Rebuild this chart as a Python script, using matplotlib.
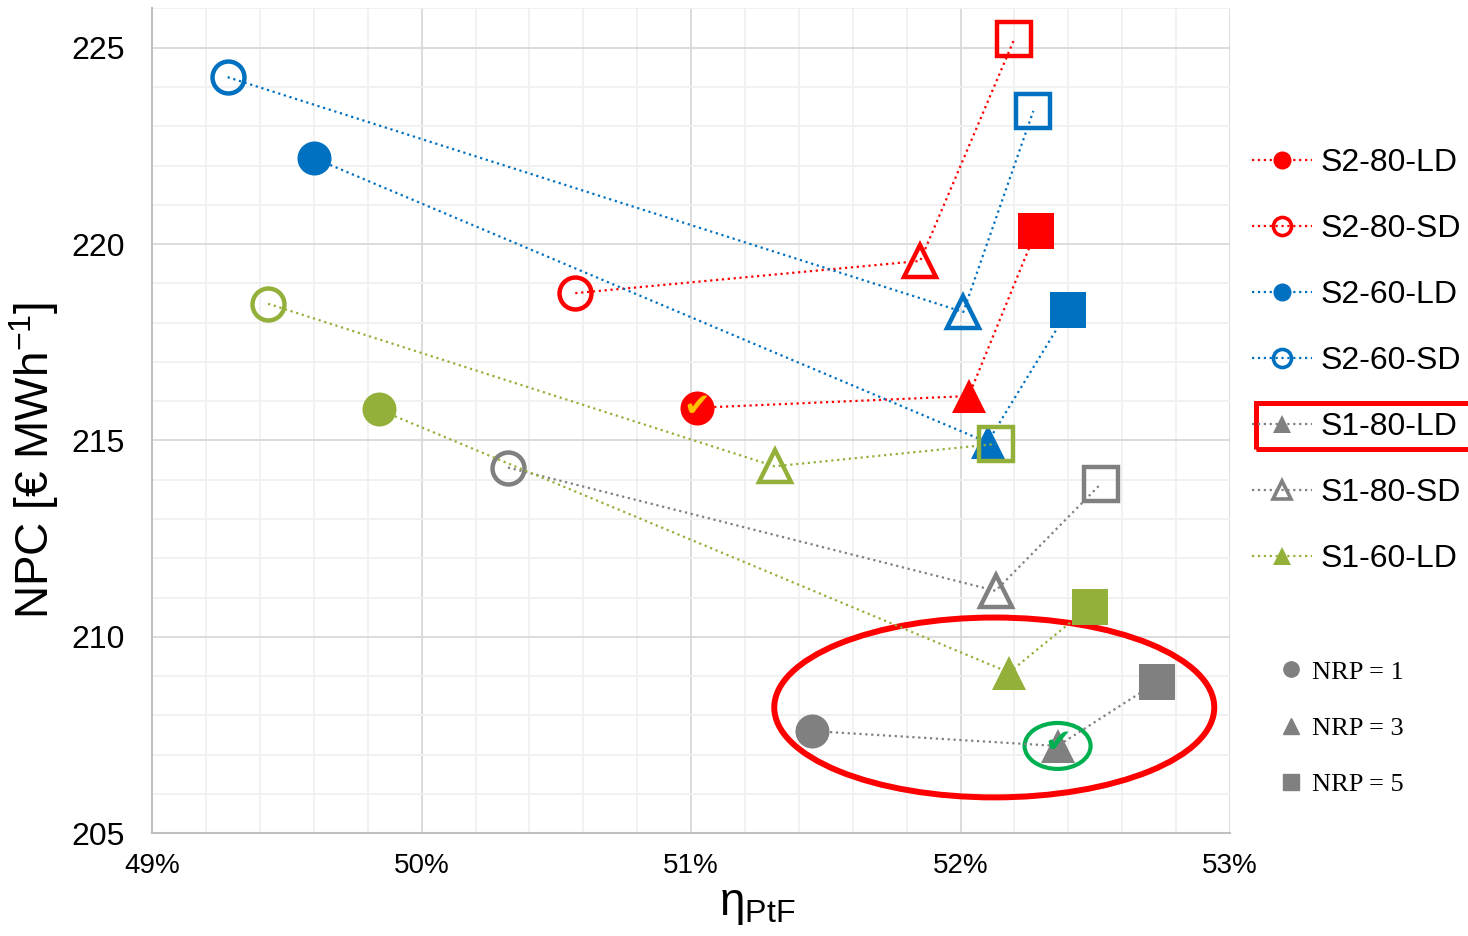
import matplotlib.pyplot as plt
from matplotlib.lines import Line2D
from matplotlib.patches import Ellipse, Rectangle
from matplotlib.ticker import MultipleLocator, FuncFormatter

plt.rcParams['font.family'] = ['Liberation Sans', 'DejaVu Sans']
plt.rcParams['mathtext.fontset'] = 'custom'
plt.rcParams['mathtext.rm'] = 'Liberation Sans'
plt.rcParams['mathtext.it'] = 'Liberation Sans:italic'

# eta_PtF [%] and NPC [EUR/MWh], each series has NRP = 1, 3, 5
s2_80_ld_eta = [51.02, 52.03, 52.28]
s2_80_ld_npc = [215.83, 216.13, 220.33]
s2_80_sd_eta = [50.57, 51.85, 52.20]
s2_80_sd_npc = [218.75, 219.57, 225.23]
s2_60_ld_eta = [49.60, 52.10, 52.40]
s2_60_ld_npc = [222.19, 214.95, 218.32]
s2_60_sd_eta = [49.28, 52.01, 52.27]
s2_60_sd_npc = [224.25, 218.27, 223.39]
s1_80_ld_eta = [51.45, 52.36, 52.73]
s1_80_ld_npc = [207.60, 207.22, 208.85]
s1_80_sd_eta = [50.32, 52.13, 52.52]
s1_80_sd_npc = [214.31, 211.17, 213.89]
s1_60_ld_eta = [49.84, 52.18, 52.48]
s1_60_ld_npc = [215.79, 209.09, 210.77]
s1_60_sd_eta = [49.43, 51.31, 52.13]
s1_60_sd_npc = [218.48, 214.34, 214.91]

series_labels = ['S2-80-LD', 'S2-80-SD', 'S2-60-LD', 'S2-60-SD',
                 'S1-80-LD', 'S1-80-SD', 'S1-60-LD', 'S1-60-SD']
series_colors = ['#FF0000', '#FF0000', '#0070C0', '#0070C0',
                 '#808080', '#808080', '#93B13A', '#93B13A']
series_filled = [True, False, True, False, True, False, True, False]
series_eta = [s2_80_ld_eta, s2_80_sd_eta, s2_60_ld_eta, s2_60_sd_eta,
              s1_80_ld_eta, s1_80_sd_eta, s1_60_ld_eta, s1_60_sd_eta]
series_npc = [s2_80_ld_npc, s2_80_sd_npc, s2_60_ld_npc, s2_60_sd_npc,
              s1_80_ld_npc, s1_80_sd_npc, s1_60_ld_npc, s1_60_sd_npc]
legend_markers = ['o', 'o', 'o', 'o', '^', '^', '^']

nrp_labels = ['NRP = 1', 'NRP = 3', 'NRP = 5']
nrp_markers = ['o', '^', 's']
nrp_sizes = [24.5, 25, 26]

fig = plt.figure(figsize=(14.68, 9.36), dpi=100)
ax = fig.add_axes([0.1037, 0.1099, 0.7342, 0.8811])

for lab, c, filled, xs, ys in zip(series_labels, series_colors, series_filled,
                                  series_eta, series_npc):
    ax.plot(xs, ys, ls=':', lw=1.6, color=c)
    for x, y, m, s in zip(xs, ys, nrp_markers, nrp_sizes):
        if filled:
            ax.plot(x, y, marker=m, ms=s, mfc=c, mec=c, mew=0, ls='none')
        else:
            ax.plot(x, y, marker=m, ms=s - 1.5, mfc='none', mec=c, mew=3.2, ls='none')

# highlighted solutions
ax.text(s2_80_ld_eta[0], s2_80_ld_npc[0], '\u2714', color='#FFC000', fontsize=23,
        ha='center', va='center', family='DejaVu Sans')
ax.text(s1_80_ld_eta[1], s1_80_ld_npc[1] + 0.05, '\u2714', color='#00B050', fontsize=23,
        ha='center', va='center', family='DejaVu Sans')
ax.add_patch(Ellipse((s1_80_ld_eta[1], s1_80_ld_npc[1]), 0.245, 1.17,
                     fill=False, ec='#00B050', lw=3.0))
ax.add_patch(Ellipse((52.125, 208.2), 1.633, 4.58, fill=False, ec='#FF0000', lw=4.3))

ax.set_xlim(49, 53)
ax.set_ylim(205, 226)
ax.xaxis.set_major_locator(MultipleLocator(1))
ax.xaxis.set_minor_locator(MultipleLocator(0.2))
ax.yaxis.set_major_locator(MultipleLocator(5))
ax.yaxis.set_minor_locator(MultipleLocator(1))
ax.xaxis.set_major_formatter(FuncFormatter(lambda v, p: '%d%%' % round(v)))
ax.grid(which='major', color='#D9D9D9', lw=1.3, zorder=0)
ax.grid(which='minor', color='#F0F0F0', lw=1.3, zorder=0)
ax.set_axisbelow(True)
ax.tick_params(which='both', length=0)
ax.tick_params(axis='x', labelsize=20, pad=14)
ax.tick_params(axis='y', labelsize=23, pad=20)
for side in ['top', 'right']:
    ax.spines[side].set_visible(False)
for side in ['left', 'bottom']:
    ax.spines[side].set_color('#BFBFBF')
    ax.spines[side].set_linewidth(1.5)

ax.set_ylabel('NPC [\u20ac MWh$^{\\mathrm{-1}}$]', fontsize=33)
ax.yaxis.set_label_coords(-0.085, 0.452)
ax.set_xlabel('\u03b7$_{\\mathrm{PtF}}$', fontsize=33)
ax.xaxis.set_label_coords(0.561, -0.06)

handles = []
for c, filled, m in zip(series_colors, series_filled, legend_markers):
    handles.append(Line2D([], [], ls=':', lw=1.6, color=c, marker=m, ms=13,
                          mfc=c if filled else 'none', mec=c,
                          mew=0 if filled else 2.6))
fig.legend(handles, series_labels[:7], loc='center left',
           bbox_to_anchor=(1252 / 1468, 1 - 361 / 936), frameon=False,
           fontsize=23, handlelength=1.88, handletextpad=0.25,
           labelspacing=1.13, borderpad=0, borderaxespad=0)

nrp_handles = [Line2D([], [], ls='none', marker=m, ms=11, color='#808080')
               for m in nrp_markers]
fig.legend(nrp_handles, nrp_labels, loc='center left',
           bbox_to_anchor=(1280 / 1468, 1 - 728 / 936), frameon=False,
           prop={'family': 'Liberation Serif', 'size': 19},
           handlelength=0.8, handletextpad=0.4, labelspacing=1.24,
           borderpad=0, borderaxespad=0)

# box around the chosen configuration in the legend
fig.add_artist(Rectangle((1256 / 1468, 1 - 449 / 936), 230 / 1468, 46 / 936,
                         transform=fig.transFigure, fill=False, ec='#FF0000', lw=3.6))

fig.savefig('out.png', dpi=100)
